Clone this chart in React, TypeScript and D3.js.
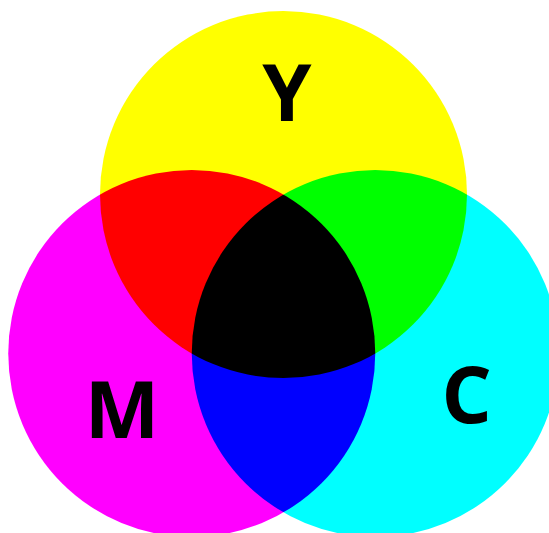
import React from "react";
import * as d3 from "d3";

const sets = ["Y", "M", "C"];
const setColors = ["#ffff00", "#ff00ff", "#00ffff"];
const setSizes = [1, 1, 1];
// angle (deg) of each circle centre around the diagram centroid
const setAngles = [-90, 150, 30];

const W = 549;
const H = 533;

export default function App() {
  const r = 183.5;
  const side = r; // centre spacing equals radius
  const centroidDist = side / Math.sqrt(3);
  const cx0 = 283.5;
  const cy0 = 300.5;
  const x = d3.scaleLinear().domain([-1, 1]).range([cx0 - centroidDist, cx0 + centroidDist]);
  const y = d3.scaleLinear().domain([-1, 1]).range([cy0 - centroidDist, cy0 + centroidDist]);
  const rScale = d3.scaleSqrt().domain([0, 1]).range([0, r]);

  const labelAngle = [-88, 140, 25];
  const labelDist = [100, 91, 101];

  const circles = sets.map((s, i) => {
    const a = (setAngles[i] * Math.PI) / 180;
    const cx = x(Math.cos(a));
    const cy = y(Math.sin(a));
    const la = (labelAngle[i] * Math.PI) / 180;
    return {
      s,
      color: setColors[i],
      cx,
      cy,
      rad: rScale(setSizes[i]),
      lx: cx + Math.cos(la) * labelDist[i],
      ly: cy + Math.sin(la) * labelDist[i] - 4,
    };
  });

  return (
    <div style={{ position: "fixed", left: 0, top: 0, width: W, height: H, background: "#fff" }}>
      <svg width={W} height={H} style={{ display: "block" }}>
        <rect width={W} height={H} fill="#fff" />
        <g style={{ isolation: "isolate" }}>
          {circles.map((c) => (
            <circle
              key={c.s}
              cx={c.cx}
              cy={c.cy}
              r={c.rad}
              fill={c.color}
              style={{ mixBlendMode: "multiply" }}
            />
          ))}
        </g>
        {circles.map((c) => (
          <text
            key={"t" + c.s}
            x={c.lx}
            y={c.ly}
            textAnchor="middle"
            dominantBaseline="central"
            fontFamily="'Open Sans', sans-serif"
            fontWeight={700}
            fontSize={79}
            fill="#000"
          >
            {c.s}
          </text>
        ))}
      </svg>
    </div>
  );
}
